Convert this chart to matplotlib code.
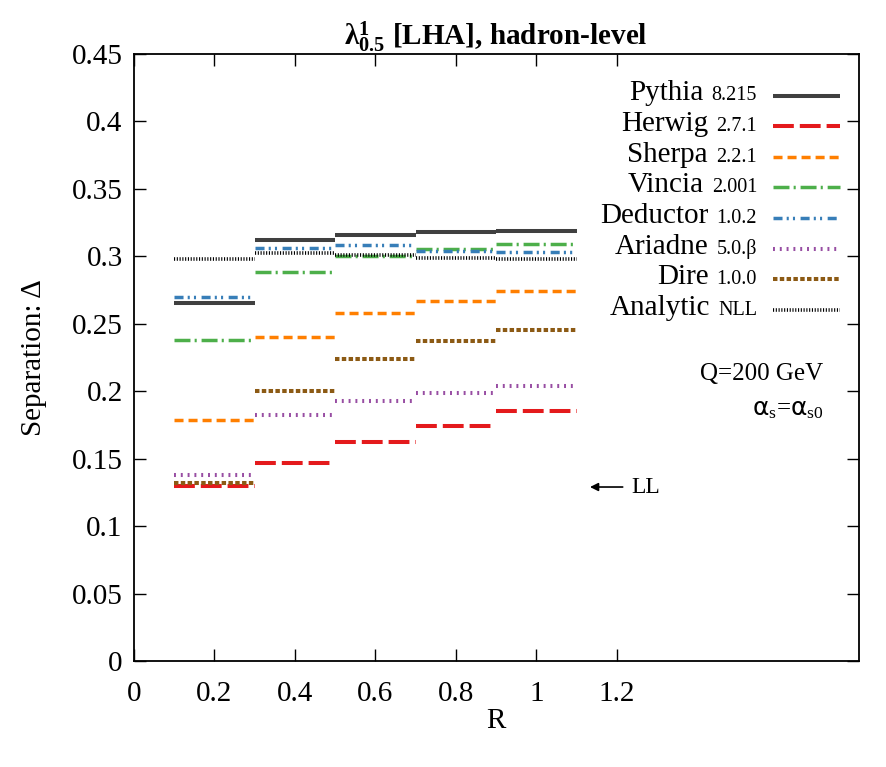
import numpy as np
import matplotlib
matplotlib.use("Agg")
import matplotlib.pyplot as plt
from matplotlib.offsetbox import TextArea, HPacker, AnnotationBbox

plt.rcParams['font.family'] = ['Liberation Serif', 'DejaVu Serif']
plt.rcParams['mathtext.fontset'] = 'custom'
plt.rcParams['mathtext.rm'] = 'Liberation Serif'
plt.rcParams['mathtext.it'] = 'Liberation Serif:italic'
plt.rcParams['mathtext.bf'] = 'Liberation Serif:bold'
plt.rcParams['mathtext.sf'] = 'DejaVu Sans'
plt.rcParams['lines.scale_dashes'] = False

# bins in R
r_edges = [0.1, 0.3, 0.5, 0.7, 0.9, 1.1]

# separation values per generator, one per R bin
pythia = [0.265, 0.312, 0.316, 0.318, 0.319]
herwig = [0.130, 0.147, 0.162, 0.174, 0.185]
sherpa = [0.179, 0.240, 0.258, 0.267, 0.274]
vincia = [0.238, 0.288, 0.300, 0.305, 0.309]
deductor = [0.270, 0.306, 0.308, 0.304, 0.303]
ariadne = [0.138, 0.182, 0.193, 0.199, 0.204]
dire = [0.132, 0.200, 0.224, 0.237, 0.245]
analytic = [0.298, 0.302, 0.301, 0.299, 0.298]

names = ["Pythia", "Herwig", "Sherpa", "Vincia", "Deductor", "Ariadne", "Dire", "Analytic"]
versions = ["8.215", "2.7.1", "2.2.1", "2.001", "1.0.2", "5.0.\u03b2", "1.0.0", "NLL"]
ll_value = 0.129

series = [pythia, herwig, sherpa, vincia, deductor, ariadne, dire, analytic]
styles = [
    dict(color="#404040", lw=2.9, ls="-"),
    dict(color="#e41a1c", lw=2.9, ls=(0, (15, 4.3))),
    dict(color="#ff7f00", lw=2.5, ls=(0, (6.5, 3.6))),
    dict(color="#4daf4a", lw=2.5, ls=(0, (11.5, 3, 1.5, 3.5))),
    dict(color="#377eb8", lw=2.5, ls=(0, (6.5, 3, 1.5, 3, 1.5, 4))),
    dict(color="#984ea3", lw=2.9, ls=(0, (1.4, 3.5))),
    dict(color="#8c5a14", lw=2.9, ls=(0, (3.2, 1.7))),
    dict(color="black", lw=2.6, ls=(0, (0.8, 1.2))),
]

fig = plt.figure(figsize=(8.86, 7.67), dpi=100)
ax = fig.add_axes([0.151, 0.138, 0.818, 0.792])

for vals, st in zip(series, styles):
    for i, v in enumerate(vals):
        ax.plot([r_edges[i], r_edges[i + 1]], [v, v], color=st["color"],
                lw=st["lw"], linestyle=st["ls"], solid_capstyle="butt",
                dash_capstyle="butt")

# legend drawn by hand so the version numbers can be smaller
leg_y0 = 0.419
leg_dy = 0.0227
for k, (name, ver, st) in enumerate(zip(names, versions, styles)):
    y = leg_y0 - k * leg_dy
    ax.plot([1.588, 1.753], [y, y], color=st["color"], lw=st["lw"],
            linestyle=st["ls"], solid_capstyle="butt", dash_capstyle="butt")
    box = HPacker(children=[TextArea(name, textprops=dict(fontsize=21)),
                            TextArea(ver, textprops=dict(fontsize=14.5))],
                  align="baseline", pad=0, sep=6)
    ab = AnnotationBbox(box, (1.548, y), xycoords="data", box_alignment=(1, 0.42),
                        frameon=False, pad=0)
    ax.add_artist(ab)

ax.text(1.713, 0.213, "Q=200 GeV", fontsize=18, ha="right", va="center")
ax.text(1.713, 0.186, r"$\mathsf{\alpha}_{\rm s}$=$\mathsf{\alpha}_{\rm s0}$",
        fontsize=18, ha="right", va="center")
ax.annotate("LL", xy=(1.133, ll_value), xytext=(1.235, ll_value), fontsize=17,
            va="center", ha="left",
            arrowprops=dict(arrowstyle="-|>", color="black", lw=1.2,
                            shrinkA=4, shrinkB=0, mutation_scale=12))

ax.set_xlim(0, 1.8)
ax.set_ylim(0, 0.45)
ax.set_xticks([0, 0.2, 0.4, 0.6, 0.8, 1, 1.2])
ax.set_xticklabels(["0", "0.2", "0.4", "0.6", "0.8", "1", "1.2"])
ax.set_yticks(np.arange(0, 0.451, 0.05))
ax.set_yticklabels(["0", "0.05", "0.1", "0.15", "0.2", "0.25", "0.3", "0.35", "0.4", "0.45"])
ax.tick_params(direction="in", length=8.5, width=1, labelsize=21, top=True,
               right=True)
ax.tick_params(axis="y", pad=8)
ax.tick_params(axis="x", pad=14)
for s in ax.spines.values():
    s.set_linewidth(1.3)

ax.set_xlabel("R", fontsize=21, labelpad=1)
ax.set_ylabel("Separation: \u0394", fontsize=21, labelpad=18)
ax.set_title(r"$\mathbf{\lambda^{1}_{0.5}}$ [LHA], hadron-level", fontsize=21,
             fontweight="bold", pad=6)

fig.savefig("out.png", dpi=100)
